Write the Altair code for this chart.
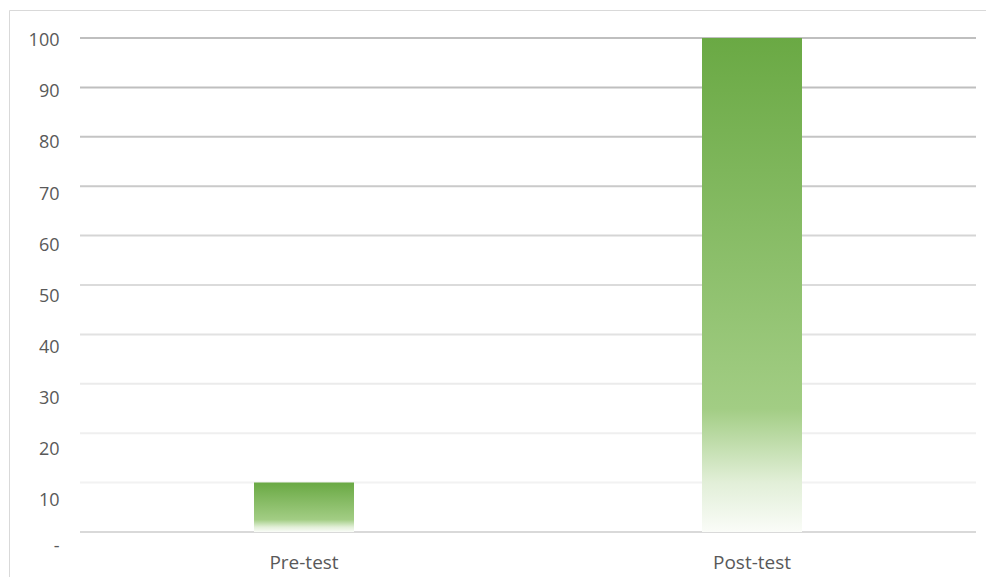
import altair as alt
import pandas as pd

# --- data ---
categories = ["Pre-test", "Post-test"]
scores = [10, 100]

grid_values = [0, 10, 20, 30, 40, 50, 60, 70, 80, 90, 100]
grid_colors = ["#d9d9d9", "#f2f2f2", "#efefef", "#ebebeb", "#e2e2e2", "#dbdbdb",
               "#d5d5d5", "#cacaca", "#c4c4c4", "#bfbfbf", "#bfbfbf"]
tick_values = [0, 10, 20, 30, 40, 50, 60, 70, 80, 90, 100]

bars_df = pd.DataFrame({"cat": categories, "value": scores})
grid_df = pd.DataFrame({"v": grid_values, "c": grid_colors})
label_df = pd.DataFrame({"v": tick_values})

FONT = "Open Sans"
TXT = "#595959"
W, H = 896, 494

y_scale = alt.Scale(domain=[0, 100], nice=False, zero=True)

grid = alt.Chart(grid_df).mark_rule(strokeWidth=2).encode(
    y=alt.Y("v:Q", scale=y_scale, axis=None),
    color=alt.Color("c:N", scale=None, legend=None),
)

gradient = alt.LinearGradient(
    gradient="linear",
    x1=0, x2=0, y1=0, y2=1,
    stops=[
        alt.GradientStop(color="#6aa944", offset=0),
        alt.GradientStop(color="#a2cd84", offset=0.75),
        alt.GradientStop(color="#e2efd8", offset=0.9),
        alt.GradientStop(color="#fafcf8", offset=1),
    ],
)

bars = alt.Chart(bars_df).mark_bar(color=gradient, size=100).encode(
    x=alt.X(
        "cat:N",
        sort=categories,
        title=None,
        axis=alt.Axis(
            labelAngle=0, domain=False, ticks=False, labelFontSize=19,
            labelColor=TXT, labelFont=FONT, labelPadding=21,
        ),
    ),
    y=alt.Y("value:Q", scale=y_scale, axis=None),
)

labels = alt.Chart(label_df).mark_point(opacity=0).encode(
    y=alt.Y(
        "v:Q",
        title=None,
        scale=alt.Scale(domain=[0, 100], range=[513.8, 2.7], nice=False),
        axis=alt.Axis(
            orient="left", values=tick_values, grid=False, domain=False, ticks=False,
            labelFontSize=18, labelColor=TXT, labelFont=FONT, labelPadding=21,
            labelExpr="datum.value == 0 ? '-' : datum.label",
            labelBaseline={"condition": {"test": "datum.value == 0", "value": "alphabetic"},
                           "value": "middle"},
        ),
    ),
)

border_top = alt.Chart(alt.Data(values=[{}])).mark_rule(color="#d9d9d9", strokeWidth=1).encode(
    x=alt.value(-70.5), x2=alt.value(906), y=alt.value(-27.5)
)
border_left = alt.Chart(alt.Data(values=[{}])).mark_rule(color="#d9d9d9", strokeWidth=1).encode(
    x=alt.value(-70.5), y=alt.value(-27.5), y2=alt.value(560)
)

chart = alt.layer(grid, bars, labels, border_top, border_left).resolve_scale(
    y="independent"
).properties(
    width=W,
    height=H,
    autosize=alt.AutoSizeParams(type="none"),
    padding={"left": 72, "top": 30, "right": 10, "bottom": 45},
    background="white",
).configure_view(stroke=None)

chart.save("out.html", embed_options={"renderer": "svg", "actions": False})
